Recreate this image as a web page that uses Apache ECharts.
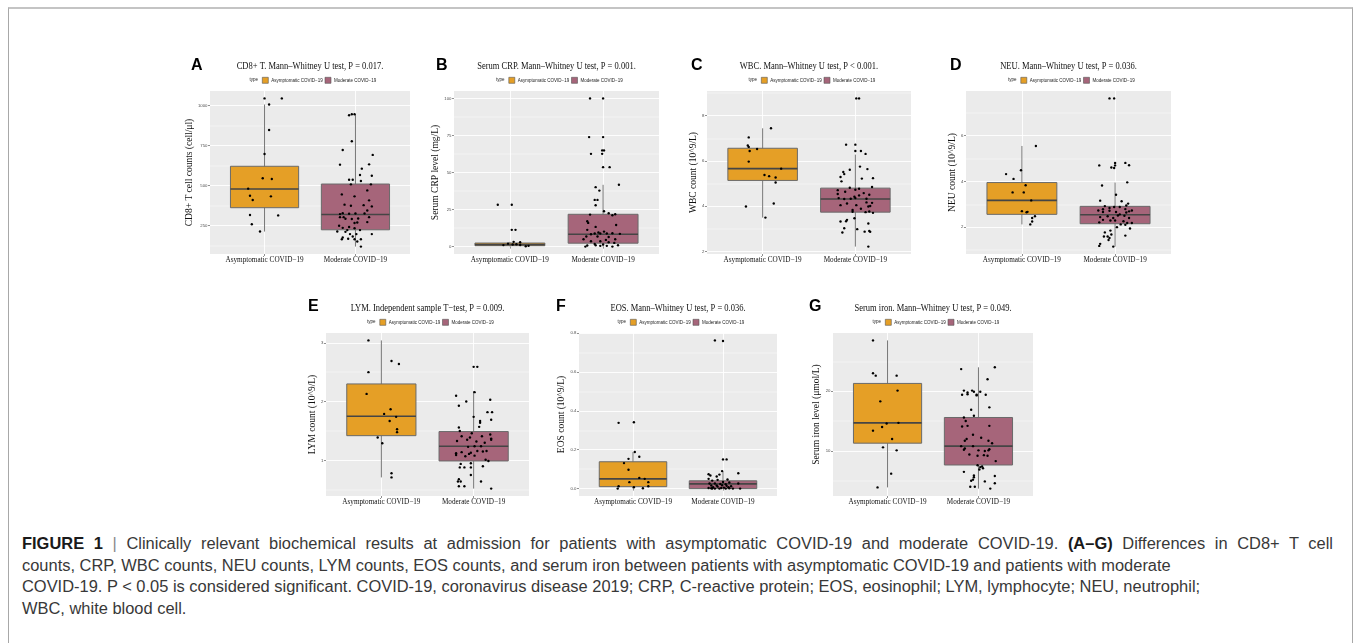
<!DOCTYPE html>
<html><head><meta charset="utf-8">
<script src="https://cdn.jsdelivr.net/npm/echarts@6/dist/echarts.min.js"></script>
<style>
html,body{margin:0;padding:0;background:#fff;width:1356px;height:643px;overflow:hidden;}
#frame{position:absolute;left:8px;top:7px;width:1345px;height:700px;border:1px solid #a8a8a8;border-top:2px solid #c4c4c4;box-sizing:border-box}
#chart{position:absolute;left:0;top:0;width:1356px;height:520px;}
#cap{position:absolute;left:22px;top:533px;font-family:'Liberation Sans',Arial,sans-serif;font-size:14.7px;line-height:21.7px;color:#383838;white-space:nowrap}
#cap span.ln{display:inline-block}
#cap b{color:#1a1a1a}
.sep{color:#888}
</style></head><body>
<div id="frame"></div>
<div id="chart"></div>
<div id="cap"><span class="ln" id="l1"><b>FIGURE 1</b> <span class="sep">|</span> Clinically relevant biochemical results at admission for patients with asymptomatic COVID-19 and moderate COVID-19. <b>(A–G)</b> Differences in CD8+ T cell</span><br><span class="ln" id="l2">counts, CRP, WBC counts, NEU counts, LYM counts, EOS counts, and serum iron between patients with asymptomatic COVID-19 and patients with moderate</span><br><span class="ln" id="l3">COVID-19. P &lt; 0.05 is considered significant. COVID-19, coronavirus disease 2019; CRP, C-reactive protein; EOS, eosinophil; LYM, lymphocyte; NEU, neutrophil;</span><br><span class="ln" id="l4">WBC, white blood cell.</span></div>
<script>
// ---------------- DATA ----------------
const groups = ['Asymptomatic COVID−19', 'Moderate COVID−19'];

// Panel A: CD8+ T cell counts  [jittered x, value]
const cd8Asym = [[1.00,1044],[1.19,1044],[1.05,1006],[1.05,847],[1.00,697],[0.98,545],[1.08,540],[0.82,480],[0.84,436],[0.87,409],[1.07,432],[0.84,315],[1.15,313],[0.86,258],[0.95,212]];
const cd8Mod = [[1.93,939],[1.96,945],[1.99,945],[1.96,776],[1.86,722],[1.83,630],[2.19,691],[2.15,632],[2.07,605],[2.18,561],[2.05,565],[1.93,536],[1.97,536],[2.06,528],[1.95,507],[2.17,507],[2.13,469],[1.85,444],[1.99,432],[2.15,407],[1.88,380],[1.95,373],[2.09,377],[2.18,369],[2.13,344],[1.86,327],[1.83,321],[1.93,323],[2.00,325],[2.10,325],[1.83,302],[1.87,302],[2.15,302],[1.89,292],[1.96,290],[2.03,294],[2.13,271],[2.02,269],[1.99,265],[1.82,248],[1.93,240],[1.86,235],[1.99,233],[1.91,221],[2.05,221],[1.80,212],[1.89,210],[1.94,196],[2.18,196],[2.01,196],[1.97,181],[1.86,175],[1.85,164],[1.92,167],[1.99,164],[2.06,164],[2.02,150],[2.06,118]];
const cd8Box = [[212,361,478,620,1006],[118,223,319,509,944]]; // [lowWhisker, Q1, median, Q3, highWhisker]
const cd8Ticks = [250,500,750,1000];
const cd8Minor = [125,375,625,875];

// Panel B: Serum CRP
const crpAsym = [[0.87,28.2],[1.02,28.2],[1.02,11.3],[1.06,11.3],[1.04,3.2],[1.11,2.9],[1.07,1.6],[1.11,1.1],[1.03,1.4],[1.17,0.2],[1.20,0.5],[0.98,2.0],[0.93,1.0]];
const crpMod = [[1.86,100],[2.00,100],[1.85,73.9],[2.00,73.9],[1.99,64.9],[2.01,64.9],[1.87,62.6],[1.99,62.6],[2.00,53.6],[2.07,53.6],[2.17,41.7],[1.92,40.1],[1.96,37.8],[1.91,31.5],[1.94,31.5],[1.92,27.9],[2.01,23.9],[1.86,21.6],[2.06,22.5],[2.10,21.2],[2.13,21.8],[1.83,17.1],[1.84,16.0],[1.92,13.3],[2.14,14.6],[1.83,11.3],[2.01,10.1],[1.95,9.5],[1.91,8.8],[1.87,8.3],[1.97,8.8],[2.04,8.8],[2.10,9.0],[2.18,8.6],[1.82,6.8],[1.94,6.8],[2.06,6.5],[1.79,5.0],[2.03,4.5],[2.13,5.0],[1.87,3.6],[1.97,3.6],[2.06,2.9],[2.12,2.5],[1.91,1.8],[2.00,1.4],[2.16,0.9],[1.83,0.7],[2.04,0.5],[2.10,0.0],[1.81,0.0],[1.92,0.9],[1.97,0.5]];
const crpBox = [[0.2,0.6,1.3,2.4,3.2],[0,2.3,8.3,21.8,41.7]];
const crpTicks = [0,25,50,75,100];
const crpMinor = [12.5,37.5,62.5,87.5];

// Panel C: WBC
const wbcAsym = [[1.09,7.44],[0.85,7.04],[0.84,6.68],[0.85,6.62],[0.94,6.53],[0.86,6.44],[0.85,5.97],[1.20,5.66],[1.02,5.38],[1.07,5.33],[1.14,5.27],[1.14,5.05],[1.12,4.12],[0.82,3.99],[1.03,3.50]];
const wbcMod = [[2.01,8.76],[2.04,8.76],[1.90,6.72],[2.00,6.72],[2.00,6.44],[2.06,6.44],[2.11,6.31],[2.05,5.75],[2.13,5.64],[1.94,5.61],[1.87,5.51],[1.88,5.42],[1.84,5.29],[2.19,5.24],[2.07,5.22],[1.85,5.10],[2.18,4.85],[1.94,4.82],[2.04,4.77],[2.00,4.73],[1.81,4.71],[1.89,4.64],[1.81,4.54],[2.09,4.58],[2.04,4.48],[1.99,4.42],[2.15,4.51],[1.82,4.36],[1.88,4.32],[1.95,4.33],[2.12,4.33],[2.00,4.36],[2.18,4.15],[2.12,4.17],[1.91,4.12],[1.84,4.05],[2.01,4.05],[2.16,4.01],[2.14,3.99],[1.97,3.84],[2.06,3.89],[2.15,3.77],[2.19,3.71],[2.11,3.74],[1.97,3.76],[1.91,3.40],[1.84,3.33],[1.99,3.47],[1.90,3.34],[2.14,3.24],[1.88,3.03],[2.02,2.99],[1.86,2.84],[2.15,2.91],[2.16,2.87],[2.10,2.88],[2.14,2.22]];
const wbcBox = [[3.50,5.14,5.66,6.56,7.44],[2.22,3.74,4.32,4.80,6.28]];
const wbcTicks = [2,4,6,8];
const wbcMinor = [3,5,7,9];

// Panel D: NEU
const neuAsym = [[1.15,5.55],[0.99,4.49],[0.83,4.32],[0.91,4.11],[1.04,3.83],[0.90,3.52],[1.02,3.52],[1.10,3.17],[1.00,2.70],[1.06,2.67],[1.05,2.65],[1.14,2.48],[1.11,2.40],[1.11,2.25],[1.09,2.12]];
const neuMod = [[1.94,7.63],[1.99,7.63],[2.00,4.81],[2.00,4.70],[2.11,4.81],[2.15,4.71],[1.83,4.70],[1.96,4.61],[1.99,4.59],[2.13,3.96],[1.86,3.82],[2.01,3.42],[2.07,3.13],[1.84,3.16],[2.14,3.03],[2.12,2.95],[1.89,2.92],[1.99,2.88],[2.05,2.88],[1.94,2.84],[1.87,2.78],[2.11,2.79],[1.82,2.73],[1.94,2.72],[1.87,2.66],[2.01,2.66],[2.12,2.64],[2.15,2.69],[2.18,2.73],[2.05,2.56],[2.03,2.51],[2.10,2.50],[1.84,2.44],[1.92,2.48],[1.98,2.40],[2.15,2.40],[1.87,2.32],[1.95,2.29],[2.00,2.29],[1.83,2.21],[2.09,2.26],[2.13,2.18],[2.18,2.18],[2.06,2.12],[2.11,2.10],[2.02,2.00],[2.16,1.94],[1.95,1.85],[1.89,1.77],[2.11,1.63],[1.88,1.59],[1.92,1.59],[1.94,1.53],[1.96,1.68],[1.93,1.44],[1.84,1.27],[1.83,1.18],[1.98,1.15]];
const neuBox = [[2.12,2.56,3.17,3.95,5.55],[1.15,2.15,2.54,2.91,3.95]];
const neuTicks = [2,4,6];
const neuMinor = [1,3,5,7];

// Panel E: LYM
const lymAsym = [[0.86,3.04],[0.86,2.50],[1.11,2.69],[1.19,2.64],[0.84,2.13],[1.10,1.87],[1.03,1.79],[1.16,1.74],[1.09,1.67],[1.17,1.53],[1.17,1.48],[0.96,1.39],[1.01,1.29],[1.11,0.78],[1.11,0.71]];
const lymMod = [[2.00,2.59],[2.04,2.59],[2.01,2.16],[1.81,2.10],[1.92,2.00],[2.18,2.03],[1.84,1.93],[2.15,1.82],[2.20,1.82],[2.19,1.69],[2.07,1.67],[2.07,1.64],[2.06,1.57],[2.00,1.74],[1.84,1.56],[1.85,1.50],[1.98,1.46],[1.87,1.41],[1.96,1.39],[2.18,1.44],[2.09,1.41],[2.19,1.37],[2.19,1.35],[1.82,1.33],[1.93,1.35],[2.03,1.32],[2.12,1.30],[2.08,1.24],[1.94,1.23],[2.01,1.24],[2.14,1.16],[2.10,1.15],[1.87,1.14],[1.97,1.13],[2.04,1.16],[1.81,1.12],[1.81,1.09],[2.01,1.08],[1.91,1.07],[1.95,1.11],[2.13,1.01],[2.16,0.99],[1.86,0.94],[1.97,0.95],[1.85,0.88],[1.90,0.88],[1.97,0.88],[2.10,0.90],[1.97,0.75],[1.84,0.68],[1.83,0.64],[1.86,0.64],[2.08,0.64],[1.84,0.56],[1.90,0.56],[2.19,0.52]];
const lymBox = [[0.71,1.42,1.75,2.30,3.04],[0.52,0.99,1.24,1.49,2.18]];
const lymTicks = [1,2,3];
const lymMinor = [0.5,1.5,2.5];

// Panel F: EOS
const eosAsym = [[0.84,0.338],[1.01,0.341],[1.02,0.188],[0.95,0.153],[1.07,0.164],[0.90,0.131],[0.95,0.097],[1.07,0.055],[1.13,0.050],[0.96,0.033],[1.17,0.033],[0.84,0.012],[1.17,0.012],[1.01,0.007],[1.11,0.002],[0.83,0.000]];
const eosMod = [[1.91,0.762],[2.00,0.759],[2.00,0.150],[2.04,0.150],[2.17,0.079],[1.99,0.090],[1.84,0.074],[1.86,0.067],[1.93,0.062],[1.96,0.072],[2.05,0.047],[1.84,0.050],[1.88,0.041],[1.94,0.045],[2.00,0.034],[2.07,0.031],[2.17,0.026],[1.85,0.026],[1.91,0.026],[1.97,0.024],[2.03,0.022],[1.87,0.016],[1.93,0.016],[1.99,0.017],[2.04,0.014],[2.09,0.012],[1.89,0.007],[1.94,0.010],[2.01,0.005],[2.06,0.007],[1.87,0.002],[1.91,0.000],[1.96,0.000],[2.03,0.000],[2.11,0.000],[2.19,0.000],[1.84,0.003],[1.88,0.000],[1.98,0.003],[2.07,0.002]];
const eosBox = [[0,0.010,0.050,0.138,0.188],[0,0,0.024,0.040,0.090]];
const eosTicks = [0,0.2,0.4,0.6,0.8];
const eosMinor = [0.1,0.3,0.5,0.7];

// Panel G: Serum iron
const ironAsym = [[0.84,28.5],[0.84,23.0],[0.87,22.6],[1.10,22.6],[1.11,20.1],[0.92,18.3],[0.99,14.6],[1.12,14.7],[0.94,14.0],[0.84,13.4],[1.05,12.0],[0.95,10.6],[1.10,10.1],[1.04,6.2],[0.89,3.9]];
const ironMod = [[1.81,23.7],[2.18,24.0],[2.10,22.0],[1.84,20.1],[1.93,20.1],[1.95,19.9],[2.02,19.9],[1.88,19.8],[1.82,19.4],[1.98,19.4],[1.88,19.5],[1.98,19.3],[2.08,19.4],[2.12,17.3],[1.92,16.9],[1.95,15.9],[1.84,15.6],[1.86,15.0],[2.12,14.2],[1.82,14.1],[1.88,14.2],[1.94,12.7],[2.03,12.2],[1.87,12.0],[2.11,11.7],[1.85,11.7],[2.15,11.3],[1.81,10.8],[1.94,10.8],[1.85,10.4],[1.84,10.2],[2.00,10.1],[2.07,10.0],[2.11,10.1],[2.12,10.3],[1.90,9.4],[1.99,9.2],[2.06,9.3],[2.10,9.2],[2.19,8.3],[1.99,7.6],[2.02,7.3],[2.04,7.4],[2.01,6.9],[2.05,7.1],[1.84,6.5],[1.95,5.6],[1.95,5.9],[1.94,5.2],[2.18,5.8],[2.18,4.6],[1.92,5.0],[2.07,4.9],[1.91,4.0],[1.96,4.0],[2.13,3.7]];
const ironBox = [[3.9,11.3,14.7,21.3,28.5],[3.7,7.65,10.8,15.6,24.0]];
const ironTicks = [10,20];
const ironMinor = [5,15,25];

const panelLetters = ['A','B','C','D','E','F','G'];
const panelTitles = [
  'CD8+ T. Mann–Whitney U test, P = 0.017.',
  'Serum CRP. Mann–Whitney U test, P = 0.001.',
  'WBC. Mann–Whitney U test, P < 0.001.',
  'NEU. Mann–Whitney U test, P = 0.036.',
  'LYM. Independent sample T−test, P = 0.009.',
  'EOS. Mann–Whitney U test, P = 0.036.',
  'Serum iron. Mann–Whitney U test, P = 0.049.'
];
const yNames = ['CD8+ T cell counts (cell/μl)','Serum CRP level (mg/L)','WBC count (10^9/L)','NEU count (10^9/L)','LYM count (10^9/L)','EOS count (10^9/L)','Serum iron level (μmol/L)'];

// ---------------- LAYOUT / STYLE ----------------
const panelData = [
  {pts:[cd8Asym,cd8Mod], box:cd8Box, ticks:cd8Ticks, minor:cd8Minor, dec:0},
  {pts:[crpAsym,crpMod], box:crpBox, ticks:crpTicks, minor:crpMinor, dec:0},
  {pts:[wbcAsym,wbcMod], box:wbcBox, ticks:wbcTicks, minor:wbcMinor, dec:0},
  {pts:[neuAsym,neuMod], box:neuBox, ticks:neuTicks, minor:neuMinor, dec:0},
  {pts:[lymAsym,lymMod], box:lymBox, ticks:lymTicks, minor:lymMinor, dec:0},
  {pts:[eosAsym,eosMod], box:eosBox, ticks:eosTicks, minor:eosMinor, dec:1},
  {pts:[ironAsym,ironMod], box:ironBox, ticks:ironTicks, minor:ironMinor, dec:0}
];
const frames = [
  {l:210, t:91,  w:200, h:163, gap:13},
  {l:454, t:91,  w:205, h:163, gap:6},
  {l:707, t:91,  w:204, h:163, gap:6},
  {l:966, t:91,  w:205, h:163, gap:4},
  {l:326, t:333, w:203, h:163, gap:6},
  {l:579, t:333, w:198, h:163, gap:9},
  {l:833, t:333, w:200, h:163, gap:8}
];
const letterPos = [[191,58],[436,58],[691,58],[950,58],[308,299],[556,299],[809,299]];
const fills = ['#E59F26','#A6657A'];
const SERIF = "'Liberation Serif','Times New Roman',serif";
const SANS = "'Liberation Sans',Arial,sans-serif";
const BOX_HALF = 0.375;

function yRange(p){
  let lo=Infinity, hi=-Infinity;
  p.pts.forEach(a=>a.forEach(d=>{lo=Math.min(lo,d[1]);hi=Math.max(hi,d[1]);}));
  p.box.forEach(b=>{lo=Math.min(lo,b[0]);hi=Math.max(hi,b[4]);});
  const e=(hi-lo)*0.05; return [lo-e, hi+e];
}

function renderBox(params, api){
  const x=api.value(0), lo=api.value(1), q1=api.value(2), med=api.value(3), q3=api.value(4), hi=api.value(5);
  const pLo=api.coord([x,lo]), pHi=api.coord([x,hi]);
  const a=api.coord([x-BOX_HALF,q1]), b=api.coord([x+BOX_HALF,q3]);
  const mL=api.coord([x-BOX_HALF,med]), mR=api.coord([x+BOX_HALF,med]);
  return {type:'group', children:[
    {type:'line', shape:{x1:pLo[0],y1:pLo[1],x2:pHi[0],y2:pHi[1]}, style:{stroke:'#777',lineWidth:1}},
    {type:'rect', shape:{x:a[0],y:b[1],width:b[0]-a[0],height:a[1]-b[1]}, style:{fill:api.visual('color'),stroke:'#6a6a6a',lineWidth:1}},
    {type:'line', shape:{x1:mL[0],y1:mL[1],x2:mR[0],y2:mR[1]}, style:{stroke:'#454545',lineWidth:1.6}}
  ]};
}

const option = {animation:false, grid:[], xAxis:[], yAxis:[], series:[], legend:[], graphic:[]};

panelData.forEach((p,i)=>{
  const f = frames[i];
  const [ymin,ymax] = yRange(p);
  const cx = f.l + f.w/2;
  const rowTop = f.t < 200;
  option.grid.push({left:f.l, top:f.t, width:f.w, height:f.h, show:true, backgroundColor:'#EBEBEB', borderWidth:0, containLabel:false, outerBoundsMode:'none'});
  option.xAxis.push({
    gridIndex:i, type:'value', min:0.4, max:2.6,
    axisLine:{show:false},
    axisTick:{show:true, customValues:[1,2], length:2, lineStyle:{color:'#444', width:0.6}},
    axisLabel:{customValues:[1,2], formatter:v=>groups[Math.round(v)-1], fontFamily:SERIF, fontSize:7.2, color:'#111', margin:3},
    splitLine:{show:true, lineStyle:{color:'#ffffff', width:0.9}}
  });
  option.yAxis.push({
    gridIndex:i, type:'value', min:ymin, max:ymax, position:'left',
    name:yNames[i], nameLocation:'middle', nameRotate:90, nameGap:f.gap,
    nameTextStyle:{fontFamily:SERIF, fontSize:9.5, color:'#111'},
    axisLine:{show:false},
    axisTick:{show:true, customValues:p.ticks, length:2, lineStyle:{color:'#444', width:0.6}},
    axisLabel:{customValues:p.ticks, formatter:v=>v.toFixed(p.dec), fontFamily:SANS, fontSize:4.3, color:'#4d4d4d', margin:2.5},
    splitLine:{show:true, lineStyle:{color:'#ffffff', width:0.9}}
  });
  option.yAxis.push({
    gridIndex:i, type:'value', min:ymin, max:ymax, position:'left',
    axisLine:{show:false},
    axisTick:{show:false, customValues:p.minor},
    axisLabel:{show:false, customValues:p.minor},
    splitLine:{show:true, lineStyle:{color:'#ffffff', width:0.45}}
  });
  p.pts.forEach((arr,g)=>{
    option.series.push({
      type:'custom', name:groups[g], xAxisIndex:i, yAxisIndex:2*i, z:2, silent:true,
      itemStyle:{color:fills[g]},
      encode:{x:0, y:[1,2,3,4,5]},
      data:[[g+1].concat(p.box[g])],
      renderItem:renderBox
    });
  });
  p.pts.forEach((arr,g)=>{
    option.series.push({
      type:'scatter', name:groups[g]+' points', xAxisIndex:i, yAxisIndex:2*i, z:3, silent:true,
      symbol:'circle', symbolSize:2.4, itemStyle:{color:'#000', opacity:1},
      data:arr
    });
  });
  const legY = rowTop ? 80 : 322;
  const legLeft = cx - 48;
  option.legend.push({
    left:legLeft, top:legY-3, orient:'horizontal', padding:0, itemWidth:6, itemHeight:6, itemGap:2,
    selectedMode:false,
    textStyle:{fontFamily:SANS, fontSize:4.5, color:'#222', padding:[0,0,0,-2]},
    data:groups.map((g,k)=>({name:g, icon:'rect', itemStyle:{color:fills[k], borderColor:'#555', borderWidth:0.6}}))
  });
  option.graphic.push({type:'text', x:legLeft-4, y:legY, silent:true,
    style:{text:'type', font:'4.5px '+SANS, fill:'#222', align:'right', verticalAlign:'middle'}});
  option.graphic.push({type:'text', x:cx, y:rowTop?66:308, scaleY:1.2, silent:true,
    style:{text:panelTitles[i], font:'8.5px '+SERIF, fill:'#111', align:'center', verticalAlign:'middle'}});
  option.graphic.push({type:'text', x:letterPos[i][0], y:letterPos[i][1], silent:true,
    style:{text:panelLetters[i], font:'bold 16px '+SANS, fill:'#000', align:'left', verticalAlign:'top'}});
});

const chart = echarts.init(document.getElementById('chart'), null, {renderer:'canvas'});
chart.setOption(option);

// caption: size the font from lines 2-3, then justify line 1 with word spacing
const cap = document.getElementById('cap');
const l1 = document.getElementById('l1'), l2 = document.getElementById('l2'), l3 = document.getElementById('l3');
const base = 14.7;
const ratio = ((1153 / l2.getBoundingClientRect().width) + (1173 / l3.getBoundingClientRect().width)) / 2;
cap.style.fontSize = (base * ratio).toFixed(2) + 'px';
const w1 = l1.getBoundingClientRect().width;
const spaces = (l1.textContent.match(/ /g) || []).length;
l1.style.wordSpacing = ((1311 - w1) / spaces).toFixed(3) + 'px';
</script>
</body></html>
